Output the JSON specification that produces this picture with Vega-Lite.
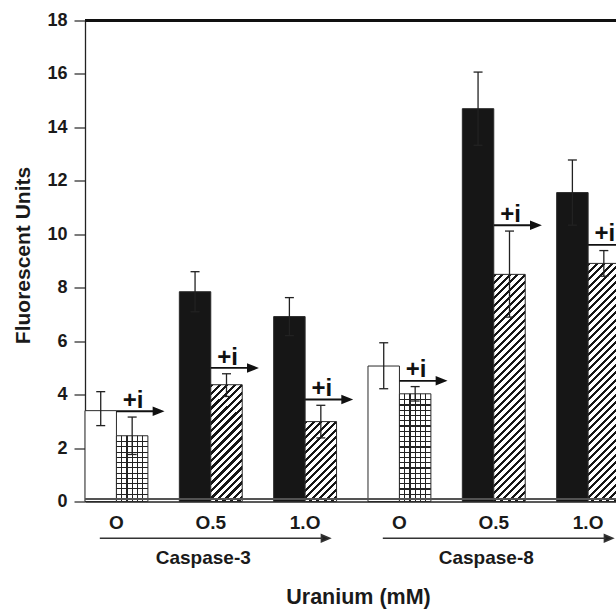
{
  "$schema": "https://vega.github.io/schema/vega-lite/v6.json",
  "width": 531,
  "height": 481,
  "autosize": {"type": "none"},
  "padding": {"left": 85, "top": 20.5, "right": 0, "bottom": 107.5},
  "background": "white",
  "config": {"font": "Liberation Sans", "view": {"stroke": null}},
  "params": [
    {"name": "diag", "value": [
      {"offset":0,"color":"#161616"},{"offset":0.0105,"color":"#161616"},{"offset":0.0105,"color":"#fff"},{"offset":0.025,"color":"#fff"},
      {"offset":0.025,"color":"#161616"},{"offset":0.0355,"color":"#161616"},{"offset":0.0355,"color":"#fff"},{"offset":0.05,"color":"#fff"},
      {"offset":0.05,"color":"#161616"},{"offset":0.0605,"color":"#161616"},{"offset":0.0605,"color":"#fff"},{"offset":0.075,"color":"#fff"},
      {"offset":0.075,"color":"#161616"},{"offset":0.0855,"color":"#161616"},{"offset":0.0855,"color":"#fff"},{"offset":0.1,"color":"#fff"},
      {"offset":0.1,"color":"#161616"},{"offset":0.1105,"color":"#161616"},{"offset":0.1105,"color":"#fff"},{"offset":0.125,"color":"#fff"},
      {"offset":0.125,"color":"#161616"},{"offset":0.1355,"color":"#161616"},{"offset":0.1355,"color":"#fff"},{"offset":0.15,"color":"#fff"},
      {"offset":0.15,"color":"#161616"},{"offset":0.1605,"color":"#161616"},{"offset":0.1605,"color":"#fff"},{"offset":0.175,"color":"#fff"},
      {"offset":0.175,"color":"#161616"},{"offset":0.1855,"color":"#161616"},{"offset":0.1855,"color":"#fff"},{"offset":0.2,"color":"#fff"},
      {"offset":0.2,"color":"#161616"},{"offset":0.2105,"color":"#161616"},{"offset":0.2105,"color":"#fff"},{"offset":0.225,"color":"#fff"},
      {"offset":0.225,"color":"#161616"},{"offset":0.2355,"color":"#161616"},{"offset":0.2355,"color":"#fff"},{"offset":0.25,"color":"#fff"},
      {"offset":0.25,"color":"#161616"},{"offset":0.2605,"color":"#161616"},{"offset":0.2605,"color":"#fff"},{"offset":0.275,"color":"#fff"},
      {"offset":0.275,"color":"#161616"},{"offset":0.2855,"color":"#161616"},{"offset":0.2855,"color":"#fff"},{"offset":0.3,"color":"#fff"},
      {"offset":0.3,"color":"#161616"},{"offset":0.3105,"color":"#161616"},{"offset":0.3105,"color":"#fff"},{"offset":0.325,"color":"#fff"},
      {"offset":0.325,"color":"#161616"},{"offset":0.3355,"color":"#161616"},{"offset":0.3355,"color":"#fff"},{"offset":0.35,"color":"#fff"},
      {"offset":0.35,"color":"#161616"},{"offset":0.3605,"color":"#161616"},{"offset":0.3605,"color":"#fff"},{"offset":0.375,"color":"#fff"},
      {"offset":0.375,"color":"#161616"},{"offset":0.3855,"color":"#161616"},{"offset":0.3855,"color":"#fff"},{"offset":0.4,"color":"#fff"},
      {"offset":0.4,"color":"#161616"},{"offset":0.4105,"color":"#161616"},{"offset":0.4105,"color":"#fff"},{"offset":0.425,"color":"#fff"},
      {"offset":0.425,"color":"#161616"},{"offset":0.4355,"color":"#161616"},{"offset":0.4355,"color":"#fff"},{"offset":0.45,"color":"#fff"},
      {"offset":0.45,"color":"#161616"},{"offset":0.4605,"color":"#161616"},{"offset":0.4605,"color":"#fff"},{"offset":0.475,"color":"#fff"},
      {"offset":0.475,"color":"#161616"},{"offset":0.4855,"color":"#161616"},{"offset":0.4855,"color":"#fff"},{"offset":0.5,"color":"#fff"},
      {"offset":0.5,"color":"#161616"},{"offset":0.5105,"color":"#161616"},{"offset":0.5105,"color":"#fff"},{"offset":0.525,"color":"#fff"},
      {"offset":0.525,"color":"#161616"},{"offset":0.5355,"color":"#161616"},{"offset":0.5355,"color":"#fff"},{"offset":0.55,"color":"#fff"},
      {"offset":0.55,"color":"#161616"},{"offset":0.5605,"color":"#161616"},{"offset":0.5605,"color":"#fff"},{"offset":0.575,"color":"#fff"},
      {"offset":0.575,"color":"#161616"},{"offset":0.5855,"color":"#161616"},{"offset":0.5855,"color":"#fff"},{"offset":0.6,"color":"#fff"},
      {"offset":0.6,"color":"#161616"},{"offset":0.6105,"color":"#161616"},{"offset":0.6105,"color":"#fff"},{"offset":0.625,"color":"#fff"},
      {"offset":0.625,"color":"#161616"},{"offset":0.6355,"color":"#161616"},{"offset":0.6355,"color":"#fff"},{"offset":0.65,"color":"#fff"},
      {"offset":0.65,"color":"#161616"},{"offset":0.6605,"color":"#161616"},{"offset":0.6605,"color":"#fff"},{"offset":0.675,"color":"#fff"},
      {"offset":0.675,"color":"#161616"},{"offset":0.6855,"color":"#161616"},{"offset":0.6855,"color":"#fff"},{"offset":0.7,"color":"#fff"},
      {"offset":0.7,"color":"#161616"},{"offset":0.7105,"color":"#161616"},{"offset":0.7105,"color":"#fff"},{"offset":0.725,"color":"#fff"},
      {"offset":0.725,"color":"#161616"},{"offset":0.7355,"color":"#161616"},{"offset":0.7355,"color":"#fff"},{"offset":0.75,"color":"#fff"},
      {"offset":0.75,"color":"#161616"},{"offset":0.7605,"color":"#161616"},{"offset":0.7605,"color":"#fff"},{"offset":0.775,"color":"#fff"},
      {"offset":0.775,"color":"#161616"},{"offset":0.7855,"color":"#161616"},{"offset":0.7855,"color":"#fff"},{"offset":0.8,"color":"#fff"},
      {"offset":0.8,"color":"#161616"},{"offset":0.8105,"color":"#161616"},{"offset":0.8105,"color":"#fff"},{"offset":0.825,"color":"#fff"},
      {"offset":0.825,"color":"#161616"},{"offset":0.8355,"color":"#161616"},{"offset":0.8355,"color":"#fff"},{"offset":0.85,"color":"#fff"},
      {"offset":0.85,"color":"#161616"},{"offset":0.8605,"color":"#161616"},{"offset":0.8605,"color":"#fff"},{"offset":0.875,"color":"#fff"},
      {"offset":0.875,"color":"#161616"},{"offset":0.8855,"color":"#161616"},{"offset":0.8855,"color":"#fff"},{"offset":0.9,"color":"#fff"},
      {"offset":0.9,"color":"#161616"},{"offset":0.9105,"color":"#161616"},{"offset":0.9105,"color":"#fff"},{"offset":0.925,"color":"#fff"},
      {"offset":0.925,"color":"#161616"},{"offset":0.9355,"color":"#161616"},{"offset":0.9355,"color":"#fff"},{"offset":0.95,"color":"#fff"},
      {"offset":0.95,"color":"#161616"},{"offset":0.9605,"color":"#161616"},{"offset":0.9605,"color":"#fff"},{"offset":0.975,"color":"#fff"},
      {"offset":0.975,"color":"#161616"},{"offset":0.9855,"color":"#161616"},{"offset":0.9855,"color":"#fff"},{"offset":1,"color":"#fff"}
    ]},
    {"name": "vgrid", "value": [
      {"offset":0,"color":"#fff"},{"offset":0.1467,"color":"#fff"},{"offset":0.1467,"color":"#222"},{"offset":0.1867,"color":"#222"},{"offset":0.1867,"color":"#fff"},
      {"offset":0.3133,"color":"#fff"},{"offset":0.3133,"color":"#222"},{"offset":0.3533,"color":"#222"},{"offset":0.3533,"color":"#fff"},
      {"offset":0.48,"color":"#fff"},{"offset":0.48,"color":"#222"},{"offset":0.52,"color":"#222"},{"offset":0.52,"color":"#fff"},
      {"offset":0.6467,"color":"#fff"},{"offset":0.6467,"color":"#222"},{"offset":0.6867,"color":"#222"},{"offset":0.6867,"color":"#fff"},
      {"offset":0.8133,"color":"#fff"},{"offset":0.8133,"color":"#222"},{"offset":0.8533,"color":"#222"},{"offset":0.8533,"color":"#fff"},
      {"offset":1,"color":"#fff"}
    ]},
    {"name": "hgrid", "value": [
      {"offset":0,"color":"rgba(34,34,34,0)"},
      {"offset":0.0175,"color":"rgba(34,34,34,0)"},{"offset":0.0175,"color":"#222"},{"offset":0.0215,"color":"#222"},{"offset":0.0215,"color":"rgba(34,34,34,0)"},
      {"offset":0.035,"color":"rgba(34,34,34,0)"},{"offset":0.035,"color":"#222"},{"offset":0.039,"color":"#222"},{"offset":0.039,"color":"rgba(34,34,34,0)"},
      {"offset":0.0525,"color":"rgba(34,34,34,0)"},{"offset":0.0525,"color":"#222"},{"offset":0.0565,"color":"#222"},{"offset":0.0565,"color":"rgba(34,34,34,0)"},
      {"offset":0.07,"color":"rgba(34,34,34,0)"},{"offset":0.07,"color":"#222"},{"offset":0.074,"color":"#222"},{"offset":0.074,"color":"rgba(34,34,34,0)"},
      {"offset":0.0875,"color":"rgba(34,34,34,0)"},{"offset":0.0875,"color":"#222"},{"offset":0.0915,"color":"#222"},{"offset":0.0915,"color":"rgba(34,34,34,0)"},
      {"offset":0.105,"color":"rgba(34,34,34,0)"},{"offset":0.105,"color":"#222"},{"offset":0.109,"color":"#222"},{"offset":0.109,"color":"rgba(34,34,34,0)"},
      {"offset":0.1225,"color":"rgba(34,34,34,0)"},{"offset":0.1225,"color":"#222"},{"offset":0.1265,"color":"#222"},{"offset":0.1265,"color":"rgba(34,34,34,0)"},
      {"offset":0.14,"color":"rgba(34,34,34,0)"},{"offset":0.14,"color":"#222"},{"offset":0.144,"color":"#222"},{"offset":0.144,"color":"rgba(34,34,34,0)"},
      {"offset":0.1575,"color":"rgba(34,34,34,0)"},{"offset":0.1575,"color":"#222"},{"offset":0.1615,"color":"#222"},{"offset":0.1615,"color":"rgba(34,34,34,0)"},
      {"offset":0.175,"color":"rgba(34,34,34,0)"},{"offset":0.175,"color":"#222"},{"offset":0.179,"color":"#222"},{"offset":0.179,"color":"rgba(34,34,34,0)"},
      {"offset":0.1925,"color":"rgba(34,34,34,0)"},{"offset":0.1925,"color":"#222"},{"offset":0.1965,"color":"#222"},{"offset":0.1965,"color":"rgba(34,34,34,0)"},
      {"offset":0.21,"color":"rgba(34,34,34,0)"},{"offset":0.21,"color":"#222"},{"offset":0.214,"color":"#222"},{"offset":0.214,"color":"rgba(34,34,34,0)"},
      {"offset":0.2275,"color":"rgba(34,34,34,0)"},{"offset":0.2275,"color":"#222"},{"offset":0.2315,"color":"#222"},{"offset":0.2315,"color":"rgba(34,34,34,0)"},
      {"offset":0.245,"color":"rgba(34,34,34,0)"},{"offset":0.245,"color":"#222"},{"offset":0.249,"color":"#222"},{"offset":0.249,"color":"rgba(34,34,34,0)"},
      {"offset":0.2625,"color":"rgba(34,34,34,0)"},{"offset":0.2625,"color":"#222"},{"offset":0.2665,"color":"#222"},{"offset":0.2665,"color":"rgba(34,34,34,0)"},
      {"offset":0.28,"color":"rgba(34,34,34,0)"},{"offset":0.28,"color":"#222"},{"offset":0.284,"color":"#222"},{"offset":0.284,"color":"rgba(34,34,34,0)"},
      {"offset":0.2975,"color":"rgba(34,34,34,0)"},{"offset":0.2975,"color":"#222"},{"offset":0.3015,"color":"#222"},{"offset":0.3015,"color":"rgba(34,34,34,0)"},
      {"offset":0.315,"color":"rgba(34,34,34,0)"},{"offset":0.315,"color":"#222"},{"offset":0.319,"color":"#222"},{"offset":0.319,"color":"rgba(34,34,34,0)"},
      {"offset":0.3325,"color":"rgba(34,34,34,0)"},{"offset":0.3325,"color":"#222"},{"offset":0.3365,"color":"#222"},{"offset":0.3365,"color":"rgba(34,34,34,0)"},
      {"offset":0.35,"color":"rgba(34,34,34,0)"},{"offset":0.35,"color":"#222"},{"offset":0.354,"color":"#222"},{"offset":0.354,"color":"rgba(34,34,34,0)"},
      {"offset":0.3675,"color":"rgba(34,34,34,0)"},{"offset":0.3675,"color":"#222"},{"offset":0.3715,"color":"#222"},{"offset":0.3715,"color":"rgba(34,34,34,0)"},
      {"offset":0.385,"color":"rgba(34,34,34,0)"},{"offset":0.385,"color":"#222"},{"offset":0.389,"color":"#222"},{"offset":0.389,"color":"rgba(34,34,34,0)"},
      {"offset":0.4025,"color":"rgba(34,34,34,0)"},{"offset":0.4025,"color":"#222"},{"offset":0.4065,"color":"#222"},{"offset":0.4065,"color":"rgba(34,34,34,0)"},
      {"offset":1,"color":"rgba(34,34,34,0)"}
    ]}
  ],
  "data": {"values": [
    {"casp":"Caspase-3","cond":"C3 O","trt":"U","bar":"C3 O U","mean":3.40,"lo":2.84,"hi":4.11},
    {"casp":"Caspase-3","cond":"C3 O","trt":"i","bar":"C3 O i","mean":2.46,"lo":1.76,"hi":3.16},
    {"casp":"Caspase-3","cond":"C3 O.5","trt":"U","bar":"C3 O.5 U","mean":7.85,"lo":7.10,"hi":8.60},
    {"casp":"Caspase-3","cond":"C3 O.5","trt":"i","bar":"C3 O.5 i","mean":4.37,"lo":3.93,"hi":4.78},
    {"casp":"Caspase-3","cond":"C3 1.O","trt":"U","bar":"C3 1.O U","mean":6.92,"lo":6.21,"hi":7.63},
    {"casp":"Caspase-3","cond":"C3 1.O","trt":"i","bar":"C3 1.O i","mean":2.99,"lo":2.38,"hi":3.60},
    {"casp":"Caspase-8","cond":"C8 O","trt":"U","bar":"C8 O U","mean":5.07,"lo":4.22,"hi":5.94},
    {"casp":"Caspase-8","cond":"C8 O","trt":"i","bar":"C8 O i","mean":4.03,"lo":3.76,"hi":4.30},
    {"casp":"Caspase-8","cond":"C8 O.5","trt":"U","bar":"C8 O.5 U","mean":14.70,"lo":13.33,"hi":16.07},
    {"casp":"Caspase-8","cond":"C8 O.5","trt":"i","bar":"C8 O.5 i","mean":8.50,"lo":6.90,"hi":10.12},
    {"casp":"Caspase-8","cond":"C8 1.O","trt":"U","bar":"C8 1.O U","mean":11.56,"lo":10.34,"hi":12.78},
    {"casp":"Caspase-8","cond":"C8 1.O","trt":"i","bar":"C8 1.O i","mean":8.91,"lo":8.43,"hi":9.39}
  ]},
  "layer": [
    {
      "mark": {"type": "bar", "stroke": "#2a2a2a", "strokeWidth": 1},
      "encoding": {
        "x": {"field": "cond", "type": "nominal",
          "scale": {"domain": ["C3 O","C3 O.5","C3 1.O","C8 O","C8 O.5","C8 1.O"], "range": [0, 566], "paddingInner": 0.33333, "paddingOuter": 0.16667, "align": 0},
          "axis": {"title": "Uranium (mM)", "labelExpr": "slice(datum.value, 3)", "labelAngle": 0, "labelFontSize": 19, "labelFontWeight": "bold", "labelColor": "#1a1a1a", "labelPadding": 12, "ticks": false, "tickSize": 0, "domainColor": "#222", "domainWidth": 1.5, "titleFontSize": 21.5, "titleFontWeight": "bold", "titleColor": "#1a1a1a", "titleX": 273, "titleY": 101.5, "titleBaseline": "alphabetic", "titleAlign": "center"}},
        "xOffset": {"field": "trt", "type": "nominal", "scale": {"domain": ["U","i"], "paddingInner": 0, "paddingOuter": 0}},
        "y": {"field": "mean", "type": "quantitative",
          "scale": {"domain": [0, 18], "nice": false},
          "axis": {"title": "Fluorescent Units", "values": [0,2,4,6,8,10,12,14,16,18], "grid": false, "labelFontSize": 18, "labelFontWeight": "bold", "labelColor": "#1a1a1a", "labelPadding": 7, "labelFlush": false, "tickSize": 11, "tickColor": "#333", "tickWidth": 1.3, "domainColor": "#222", "domainWidth": 1.3, "titleFontSize": 21, "titleFontWeight": "bold", "titleColor": "#1a1a1a", "titleAngle": 270, "titleBaseline": "alphabetic", "titleAlign": "center", "titleX": -56, "titleY": 234.5}},
        "fill": {"field": "bar", "type": "nominal", "legend": null,
          "scale": {"domain": ["C3 O U","C3 O i","C3 O.5 U","C3 O.5 i","C3 1.O U","C3 1.O i","C8 O U","C8 O i","C8 O.5 U","C8 O.5 i","C8 1.O U","C8 1.O i"],
            "range": [
              "#ffffff",
              {"expr": "{'gradient':'linear','x1':0,'y1':0,'x2':1,'y2':0,'stops':vgrid}"},
              "#161616",
              {"expr": "{'gradient':'linear','x1':0,'y1':0,'x2':0.6447,'y2':2.395,'stops':diag}"},
              "#161616",
              {"expr": "{'gradient':'linear','x1':0,'y1':0,'x2':1.2793,'y2':3.2513,'stops':diag}"},
              "#ffffff",
              {"expr": "{'gradient':'linear','x1':0,'y1':0,'x2':1,'y2':0,'stops':vgrid}"},
              "#161616",
              {"expr": "{'gradient':'linear','x1':0,'y1':0,'x2':0.17944,'y2':1.29616,'stops':diag}"},
              "#161616",
              {"expr": "{'gradient':'linear','x1':0,'y1':0,'x2':0.16352,'y2':1.23838,'stops':diag}"}
            ]}}
      }
    },
    {
      "transform": [{"filter": "datum.bar == 'C3 O i' || datum.bar == 'C8 O i'"}],
      "mark": {"type": "bar", "strokeWidth": 0},
      "encoding": {
        "x": {"field": "cond", "type": "nominal"},
        "xOffset": {"field": "trt", "type": "nominal"},
        "y": {"field": "mean", "type": "quantitative"},
        "fill": {"field": "bar", "type": "nominal", "legend": null,
          "scale": {"domain": ["C3 O i","C8 O i"],
            "range": [
              {"expr": "{'gradient':'linear','x1':0,'y1':0,'x2':0.000001,'y2':4.566,'stops':hgrid}"},
              {"expr": "{'gradient':'linear','x1':0,'y1':0,'x2':0.000001,'y2':2.786,'stops':hgrid}"}
            ]}}
      }
    },
    {
      "mark": {"type": "rule", "stroke": "#555", "strokeWidth": 1, "yOffset": -2.5},
      "encoding": {"y": {"datum": 0, "type": "quantitative"}}
    },
    {
      "mark": {"type": "rule", "stroke": "#111", "strokeWidth": 2},
      "encoding": {"y": {"datum": 18, "type": "quantitative"}}
    },
    {
      "mark": {"type": "rule", "stroke": "#222", "strokeWidth": 1.3},
      "encoding": {
        "x": {"field": "cond", "type": "nominal"},
        "xOffset": {"field": "trt", "type": "nominal"},
        "y": {"field": "lo", "type": "quantitative"},
        "y2": {"field": "hi"}
      }
    },
    {
      "mark": {"type": "tick", "color": "#222", "size": 9, "thickness": 1.3, "opacity": 1},
      "encoding": {
        "x": {"field": "cond", "type": "nominal"},
        "xOffset": {"field": "trt", "type": "nominal"},
        "y": {"field": "hi", "type": "quantitative"}
      }
    },
    {
      "mark": {"type": "tick", "color": "#222", "size": 9, "thickness": 1.3, "opacity": 1},
      "encoding": {
        "x": {"field": "cond", "type": "nominal"},
        "xOffset": {"field": "trt", "type": "nominal"},
        "y": {"field": "lo", "type": "quantitative"}
      }
    },
    {
      "transform": [{"filter": "datum.trt == 'i'"}],
      "mark": {"type": "point", "shape": "M-0.684,0L1.0,0M0.93,-0.15L1.303,0L0.93,0.15Z", "size": 2116, "fill": "#111", "stroke": "#111", "strokeWidth": 1.8, "opacity": 1, "yOffset": -5.8},
      "encoding": {
        "x": {"field": "cond", "type": "nominal"},
        "xOffset": {"field": "trt", "type": "nominal"},
        "y": {"field": "hi", "type": "quantitative"}
      }
    },
    {
      "transform": [{"filter": "datum.trt == 'i'"}],
      "mark": {"type": "text", "text": "+i", "fontSize": 24, "fontWeight": "bold", "color": "#111", "align": "center", "baseline": "alphabetic", "dx": 1, "dy": -9.2},
      "encoding": {
        "x": {"field": "cond", "type": "nominal"},
        "xOffset": {"field": "trt", "type": "nominal"},
        "y": {"field": "hi", "type": "quantitative"}
      }
    },
    {
      "transform": [{"filter": "datum.trt == 'U' && (datum.cond == 'C3 O.5' || datum.cond == 'C8 O.5')"}],
      "mark": {"type": "point", "shape": "M-0.965,0L0.975,0M0.962,-0.031L1.035,0L0.962,0.031Z", "size": 52900, "fill": "#222", "stroke": "#333", "strokeWidth": 1.5, "opacity": 1, "yOffset": 36.8},
      "encoding": {
        "x": {"field": "cond", "type": "nominal"},
        "y": {"datum": 0, "type": "quantitative"}
      }
    },
    {
      "transform": [{"filter": "datum.trt == 'U' && (datum.cond == 'C3 O.5' || datum.cond == 'C8 O.5')"}],
      "mark": {"type": "text", "fontSize": 19, "fontWeight": "bold", "color": "#1a1a1a", "align": "center", "baseline": "alphabetic", "dx": -7.5, "dy": 62.5},
      "encoding": {
        "x": {"field": "cond", "type": "nominal"},
        "y": {"datum": 0, "type": "quantitative"},
        "text": {"field": "casp"}
      }
    }
  ],
  "resolve": {"scale": {"fill": "independent"}}
}
